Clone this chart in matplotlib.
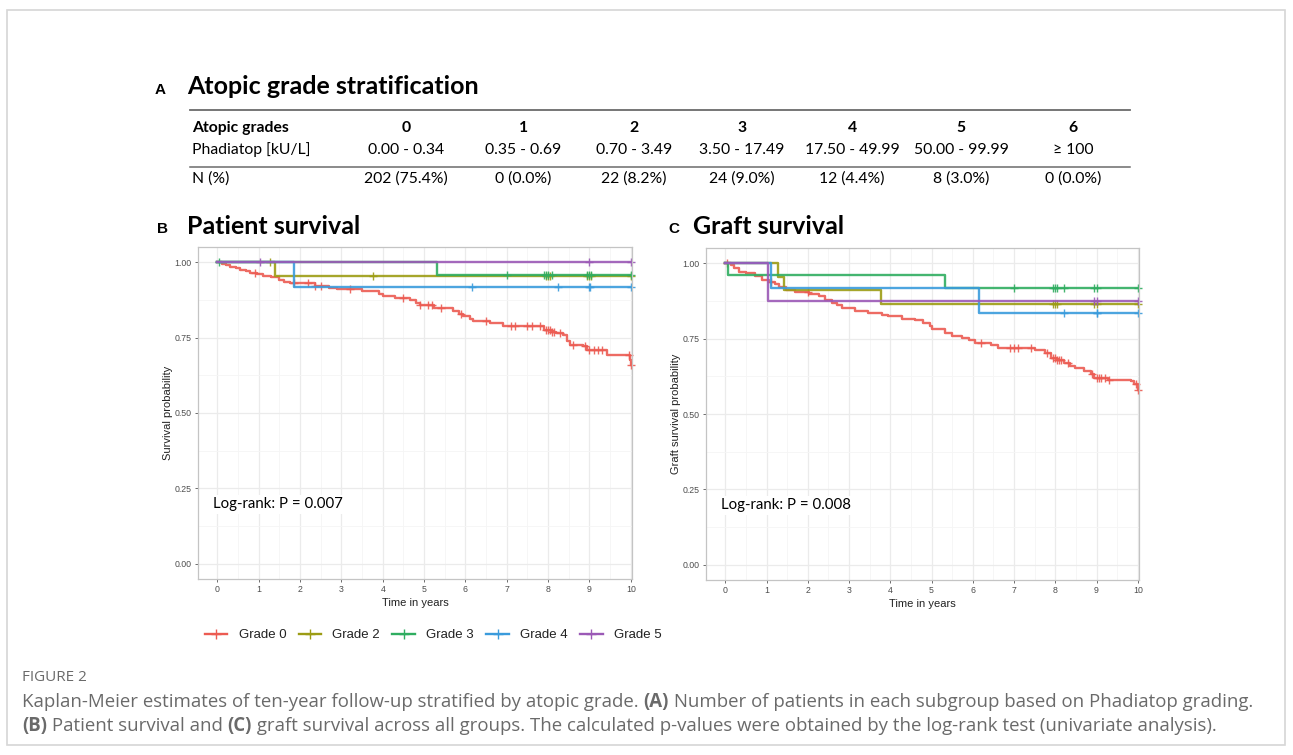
import matplotlib
matplotlib.use('Agg')
import matplotlib.pyplot as plt
import numpy as np
from matplotlib.lines import Line2D
from matplotlib.patches import Rectangle

# ---- data ----
grades = ['0', '1', '2', '3', '4', '5', '6']
phadiatop = ['0.00 - 0.34', '0.35 - 0.69', '0.70 - 3.49', '3.50 - 17.49',
             '17.50 - 49.99', '50.00 - 99.99', '\u2265 100']
n_pct = ['202 (75.4%)', '0 (0.0%)', '22 (8.2%)', '24 (9.0%)',
         '12 (4.4%)', '8 (3.0%)', '0 (0.0%)']

group_labels = ['Grade 0', 'Grade 2', 'Grade 3', 'Grade 4', 'Grade 5']
group_colors = ['#EC5B52', '#9C9C14', '#2FAD60', '#3A9BDC', '#9B59B6']

# patient survival: step times / survival after step / censor times
pat_g0_t = [0, 0.1, 0.2, 0.31, 0.45, 0.55, 0.7, 0.8, 0.95, 1.1, 1.3, 1.5, 1.6,
            1.75, 2.35, 2.7, 2.9, 3.5, 3.9, 4.0, 4.3, 4.66, 4.8, 4.9, 5.23,
            5.71, 5.85, 5.95, 6.1, 6.19, 6.6, 6.92, 7.89, 8.1, 8.2, 8.37, 8.45,
            8.53, 8.85, 8.94, 9.42, 9.99, 10.0]
pat_g0_s = [1.0, 0.995, 0.99, 0.985, 0.98, 0.975, 0.97, 0.965, 0.96, 0.955,
            0.95, 0.94, 0.935, 0.93, 0.92, 0.915, 0.91, 0.903, 0.893, 0.886,
            0.881, 0.875, 0.865, 0.859, 0.848, 0.837, 0.828, 0.82, 0.812,
            0.806, 0.798, 0.787, 0.776, 0.77, 0.765, 0.76, 0.737, 0.726, 0.721,
            0.71, 0.693, 0.677, 0.66]
pat_g0_c = [0.9, 1.85, 2.2, 2.35, 2.5, 3.2, 4.5, 4.9, 5.1, 5.2, 5.4, 5.9, 6.5,
            7.1, 7.2, 7.5, 7.6, 7.8, 7.95, 8.0, 8.05, 8.1, 8.15, 8.3, 8.6, 8.9,
            9.0, 9.1, 9.2, 9.3, 9.95, 10.0]
pat_g2_t = [0, 1.40, 10.0]
pat_g2_s = [1.0, 0.955, 0.955]
pat_g2_c = [1.27, 3.77, 7.95, 8.0, 8.05, 8.95, 9.0, 9.05, 10.0]
pat_g3_t = [0, 5.31, 10.0]
pat_g3_s = [1.0, 0.958, 0.958]
pat_g3_c = [0.05, 7.0, 7.9, 7.95, 8.0, 8.1, 8.95, 9.0, 9.05, 10.0]
pat_g4_t = [0, 1.85, 10.0]
pat_g4_s = [1.0, 0.917, 0.917]
pat_g4_c = [6.15, 8.23, 9.0, 9.02, 10.0]
pat_g5_t = [0, 10.0]
pat_g5_s = [1.0, 1.0]
pat_g5_c = [1.03, 9.0, 10.0]

# graft survival
gr_g0_t = [0, 0.13, 0.21, 0.33, 0.49, 0.73, 0.89, 1.05, 1.2, 1.3, 1.46, 1.7,
           2.02, 2.26, 2.42, 2.59, 2.7, 2.83, 3.15, 3.47, 3.79, 3.95, 4.28, 4.6,
           4.8, 4.96, 5.0, 5.32, 5.5, 5.73, 5.9, 6.05, 6.45, 6.61, 7.5, 7.74,
           7.9, 8.05, 8.22, 8.35, 8.47, 8.7, 8.87, 8.95, 9.27, 9.84, 9.92, 10.0]
gr_g0_s = [1.0, 0.994, 0.983, 0.972, 0.967, 0.956, 0.945, 0.939, 0.93, 0.922,
           0.912, 0.904, 0.897, 0.89, 0.879, 0.868, 0.86, 0.851, 0.842, 0.835,
           0.829, 0.824, 0.816, 0.813, 0.80, 0.79, 0.78, 0.768, 0.76, 0.752,
           0.745, 0.735, 0.73, 0.719, 0.713, 0.702, 0.686, 0.678, 0.669, 0.66,
           0.653, 0.642, 0.631, 0.62, 0.614, 0.609, 0.598, 0.581]
gr_g0_c = [0.05, 1.1, 2.0, 6.2, 6.9, 7.0, 7.1, 7.4, 7.8, 7.95, 8.0, 8.05, 8.1,
           8.15, 8.3, 8.9, 9.0, 9.05, 9.1, 9.2, 9.3, 9.95, 10.0]
gr_g2_t = [0, 1.27, 1.42, 3.77, 10.0]
gr_g2_s = [1.0, 0.955, 0.91, 0.865, 0.865]
gr_g2_c = [7.95, 8.0, 8.05, 8.95, 9.0, 10.0]
gr_g3_t = [0, 0.07, 5.33, 10.0]
gr_g3_s = [1.0, 0.959, 0.918, 0.918]
gr_g3_c = [7.0, 7.95, 8.0, 8.05, 8.2, 8.95, 9.0, 10.0]
gr_g4_t = [0, 1.11, 6.16, 10.0]
gr_g4_s = [1.0, 0.917, 0.834, 0.834]
gr_g4_c = [8.2, 9.0, 9.02, 10.0]
gr_g5_t = [0, 1.03, 10.0]
gr_g5_s = [1.0, 0.875, 0.875]
gr_g5_c = [8.95, 9.0, 10.0]

pat_curves = [(pat_g0_t, pat_g0_s, pat_g0_c), (pat_g2_t, pat_g2_s, pat_g2_c),
              (pat_g3_t, pat_g3_s, pat_g3_c), (pat_g4_t, pat_g4_s, pat_g4_c),
              (pat_g5_t, pat_g5_s, pat_g5_c)]
gr_curves = [(gr_g0_t, gr_g0_s, gr_g0_c), (gr_g2_t, gr_g2_s, gr_g2_c),
             (gr_g3_t, gr_g3_s, gr_g3_c), (gr_g4_t, gr_g4_s, gr_g4_c),
             (gr_g5_t, gr_g5_s, gr_g5_c)]

W, H = 1293, 755
fig = plt.figure(figsize=(W / 100, H / 100), dpi=100)
head_font = 'Lato'
axis_font = 'Liberation Sans'


def fx(px):
    return px / W


def fy(py):
    return 1 - py / H


fig.patches.append(Rectangle((fx(7), fy(745)), fx(1278), 735 / H, transform=fig.transFigure,
                             fill=False, ec='#d6d6d6', lw=1.2))

# ---- panel A: table ----
tfs = 11.3
fig.text(fx(155), fy(90), 'A', weight='bold', fontsize=11, family=axis_font, va='center')
fig.text(fx(187), fy(87), 'Atopic grade stratification', weight='bold', fontsize=18,
         family=head_font, va='center')
fig.add_artist(Line2D([fx(190), fx(1130)], [fy(110), fy(110)], color='#6b6b6b', lw=1.3))
fig.add_artist(Line2D([fx(190), fx(1130)], [fy(167), fy(167)], color='#6b6b6b', lw=1.1))
col_x = [406, 523, 634, 742, 852, 961, 1073]
fig.text(fx(192), fy(128), 'Atopic grades', weight='bold', fontsize=tfs, family=head_font, va='center')
fig.text(fx(192), fy(150), 'Phadiatop [kU/L]', fontsize=tfs, family=head_font, va='center')
fig.text(fx(192), fy(179), 'N (%)', fontsize=tfs, family=head_font, va='center')
for cx, g, p, n in zip(col_x, grades, phadiatop, n_pct):
    fig.text(fx(cx), fy(128), g, weight='bold', fontsize=tfs, family=head_font, ha='center', va='center')
    fig.text(fx(cx), fy(150), p, fontsize=tfs, family=[head_font, 'DejaVu Sans'], ha='center', va='center')
    fig.text(fx(cx), fy(179), n, fontsize=tfs, family=head_font, ha='center', va='center')


# ---- panels B and C ----
def step_value(t, s, x):
    i = np.searchsorted(np.asarray(t), x, side='right') - 1
    return np.asarray(s)[i]


def km_panel(left, right, top, bottom, curves, ylabel, ptext):
    ax = fig.add_axes([fx(left), fy(bottom), fx(right - left), (bottom - top) / H])
    ax.set_xlim(-0.47, 10.03)
    ax.set_ylim(-0.05, 1.05)
    ax.set_xticks(range(11))
    ax.set_xticks(np.arange(0.5, 10, 1), minor=True)
    ax.set_yticks([0, 0.25, 0.5, 0.75, 1.0])
    ax.set_yticks([0.125, 0.375, 0.625, 0.875], minor=True)
    ax.set_yticklabels(['0.00', '0.25', '0.50', '0.75', '1.00'])
    ax.grid(which='major', color='#ebebeb', lw=0.9)
    ax.grid(which='minor', color='#f5f5f5', lw=0.6)
    ax.set_axisbelow(True)
    ax.tick_params(which='minor', length=0)
    ax.tick_params(which='major', length=2.5, width=0.6, color='#555555', labelsize=6.3,
                   labelcolor='#4d4d4d', pad=2)
    for lab in ax.get_xticklabels() + ax.get_yticklabels():
        lab.set_family(axis_font)
    for sp in ax.spines.values():
        sp.set_color('#c4c4c4')
        sp.set_linewidth(0.9)
    for (t, s, c), col in zip(curves, group_colors):
        ax.step(t, s, where='post', color=col, lw=1.7, alpha=0.9, clip_on=False)
        ax.plot(c, step_value(t, s, c), ls='none', marker='+', ms=6, mew=1.0,
                color=col, alpha=0.9, clip_on=False)
    ax.set_xlabel('Time in years', fontsize=8, family=axis_font, color='#222222', labelpad=3)
    ax.set_ylabel(ylabel, fontsize=8, family=axis_font, color='#222222', labelpad=1)
    ax.text(-0.1, 0.197, ptext, fontsize=10.8, family=head_font, va='center', ha='left',
            bbox=dict(fc='white', ec='none', pad=1.5))
    return ax


fig.text(fx(157), fy(229), 'B', weight='bold', fontsize=11, family=axis_font, va='center')
fig.text(fx(187), fy(227), 'Patient survival', weight='bold', fontsize=18, family=head_font, va='center')
km_panel(198, 632, 247, 579, pat_curves, 'Survival probability', 'Log-rank: P = 0.007')

fig.text(fx(668), fy(229), 'C', weight='bold', fontsize=11, family=axis_font, va='center')
fig.text(fx(693), fy(227), 'Graft survival', weight='bold', fontsize=18, family=head_font, va='center')
km_panel(706, 1139, 248, 580, gr_curves, 'Graft survival probability', 'Log-rank: P = 0.008')

# ---- legend ----
handles = [Line2D([], [], color=c, lw=1.7, marker='+', ms=7, mew=1.0) for c in group_colors]
fig.legend(handles, group_labels, ncol=5, loc='center left', bbox_to_anchor=(fx(193), fy(635)),
           frameon=False, prop={'family': axis_font, 'size': 9.5}, handlelength=1.7,
           handletextpad=0.85, columnspacing=0.95, labelcolor='#222222')

# ---- caption ----
cap_color = '#6a6a6a'
fig.text(fx(22), fy(681), 'FIGURE 2', fontsize=11, family='Open Sans', color=cap_color, va='baseline')

renderer = fig.canvas.get_renderer()


def draw_runs(x_px, y_px, runs):
    x = fx(x_px)
    for txt, wt in runs:
        t = fig.text(x, fy(y_px), txt, fontsize=13.4, family='Open Sans', color=cap_color,
                     weight=wt, va='baseline')
        x += t.get_window_extent(renderer).width / fig.bbox.width


draw_runs(22, 707, [('Kaplan-Meier estimates of ten-year follow-up stratified by atopic grade. ', 'normal'),
                    ('(A)', 'bold'),
                    (' Number of patients in each subgroup based on Phadiatop grading.', 'normal')])
draw_runs(22, 731, [('(B)', 'bold'), (' Patient survival and ', 'normal'), ('(C)', 'bold'),
                    (' graft survival across all groups. The calculated p-values were obtained by the log-rank test (univariate analysis).', 'normal')])

fig.savefig('out.png', dpi=100)
